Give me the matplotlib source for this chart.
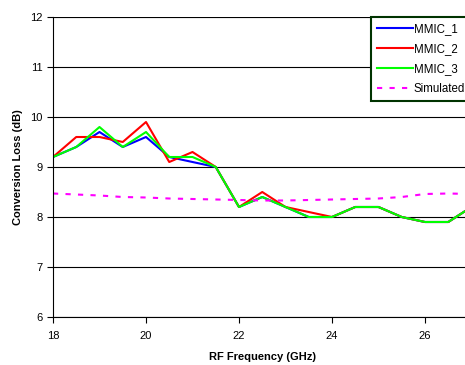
import matplotlib
matplotlib.use("Agg")
import matplotlib.pyplot as plt

freq = [18, 18.5, 19, 19.5, 20, 20.5, 21, 21.5, 22, 22.5, 23, 23.5, 24, 24.5, 25, 25.5, 26, 26.5, 27]
mmic_1 = [9.2, 9.4, 9.7, 9.4, 9.6, 9.2, 9.1, 9.0, 8.2, 8.4, 8.2, 8.0, 8.0, 8.2, 8.2, 8.0, 7.9, 7.9, 8.2]
mmic_2 = [9.2, 9.6, 9.6, 9.5, 9.9, 9.1, 9.3, 9.0, 8.2, 8.5, 8.2, 8.1, 8.0, 8.2, 8.2, 8.0, 7.9, 7.9, 8.2]
mmic_3 = [9.2, 9.4, 9.8, 9.4, 9.7, 9.2, 9.2, 9.0, 8.2, 8.4, 8.2, 8.0, 8.0, 8.2, 8.2, 8.0, 7.9, 7.9, 8.2]
simulated = [8.47, 8.45, 8.43, 8.40, 8.39, 8.37, 8.36, 8.35, 8.34, 8.33, 8.33, 8.34, 8.35, 8.36, 8.37, 8.40, 8.46, 8.47, 8.46]
xticks = [18, 20, 22, 24, 26]
yticks = [6, 7, 8, 9, 10, 11, 12]

plt.rcParams['font.family'] = ['Liberation Sans', 'DejaVu Sans']

fig = plt.figure(figsize=(4.65, 3.65), dpi=100)
ax = fig.add_axes([53/465, 48/365, (471.5-53)/465, 300/365])

ax.plot(freq, mmic_1, color='#0000FF', lw=1.5, label='MMIC_1')
ax.plot(freq, mmic_2, color='#FF0000', lw=1.5, label='MMIC_2')
ax.plot(freq, mmic_3, color='#00FF00', lw=1.5, label='MMIC_3')
ax.plot(freq, simulated, color='#FF00FF', lw=1.5, ls=(0, (2.5, 3.5)), label='Simulated')

ax.set_xlim(18, 27)
ax.set_ylim(6, 12)
ax.set_xticks(xticks)
ax.set_yticks(yticks)
ax.tick_params(labelsize=8, length=4, direction='out', width=0.8)
ax.tick_params(axis='x', pad=6)
ax.yaxis.grid(True, color='#000000', lw=0.8)
ax.set_axisbelow(True)
for s in ['top', 'right']:
    ax.spines[s].set_visible(False)
ax.spines['left'].set_linewidth(0.8)
ax.spines['bottom'].set_linewidth(0.8)
ax.axhline(12, color='#808080', lw=1.5, zorder=0.5)

ax.set_xlabel('RF Frequency (GHz)', fontsize=8, fontweight='bold', labelpad=8)
ax.set_ylabel('Conversion Loss (dB)', fontsize=8, fontweight='bold', labelpad=5)

leg = fig.legend(loc='upper left', bbox_to_anchor=(371/465, 1 - 17/365), fontsize=8.3,
                 frameon=True, fancybox=False, edgecolor='#003300', handlelength=3.1,
                 handletextpad=0.05, labelspacing=0.68, borderpad=0.55, borderaxespad=0)
leg.get_frame().set_linewidth(1.5)
leg.get_frame().set_facecolor('white')
leg.get_frame().set_alpha(1)

fig.savefig('out.png', dpi=100)
